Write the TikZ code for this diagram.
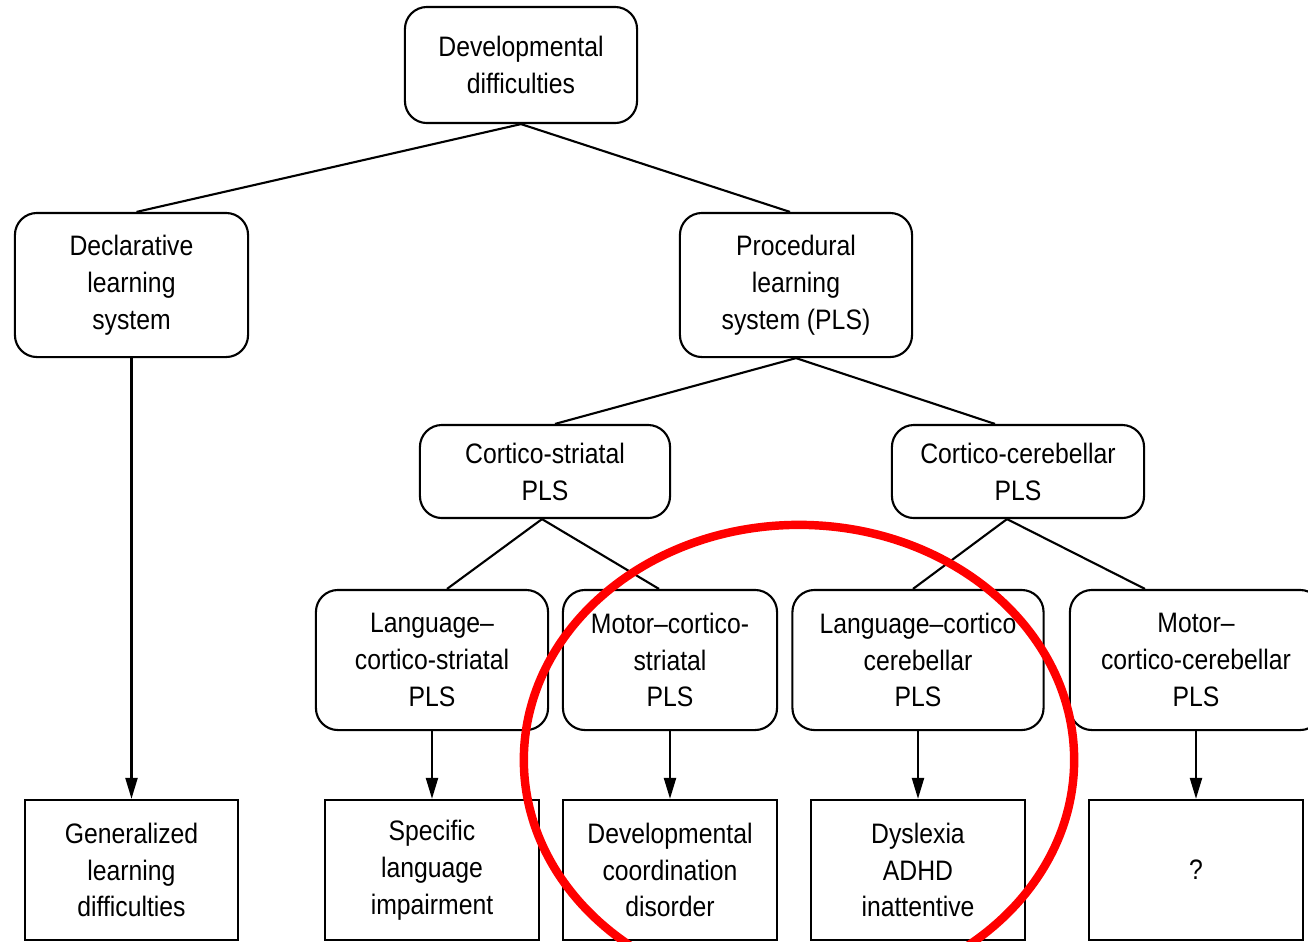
\documentclass[tikz,border=0pt]{standalone}
\usepackage{fontspec}
\setmainfont{Liberation Sans}[FakeStretch=0.88]
\usetikzlibrary{arrows.meta}

\begin{document}
\begin{tikzpicture}[x=0.01cm,y=-0.01cm,
  every node/.style={font=\fontsize{8}{10.5}\selectfont, align=center, inner sep=0pt},
  roundbox/.style={draw, rounded corners=0.22cm, line width=0.6pt},
  sharpbox/.style={draw, line width=0.6pt, minimum width=2.13cm, minimum height=1.40cm},
  link/.style={line width=0.6pt},
  drop/.style={line width=0.7pt, -{Triangle[length=6pt,width=3.4pt]}}]
  \useasboundingbox (0,0) rectangle (1308,941);
  % top of the tree
  \node[roundbox, minimum width=2.32cm, minimum height=1.16cm] (dev) at (521,65) {Developmental\\difficulties};
  \node[roundbox, minimum width=2.33cm, minimum height=1.44cm] (decl) at (131.5,285) {Declarative\\learning\\system};
  \node[roundbox, minimum width=2.32cm, minimum height=1.44cm] (proc) at (796,285) {Procedural\\learning\\system (PLS)};
  % second level
  \node[roundbox, minimum width=2.50cm, minimum height=0.93cm] (cs) at (545,471.5) {Cortico-striatal\\PLS};
  \node[roundbox, minimum width=2.52cm, minimum height=0.93cm] (cc) at (1018,471.5) {Cortico-cerebellar\\PLS};
  % third level
  \node[roundbox, minimum width=2.32cm, minimum height=1.40cm] (lcs) at (432,660) {Language--\\cortico-striatal\\PLS};
  \node[roundbox, minimum width=2.14cm, minimum height=1.40cm] (mcs) at (670,660) {Motor--cortico-\\striatal\\PLS};
  \node[roundbox, minimum width=2.51cm, minimum height=1.40cm] (lcc) at (918,660) {Language--cortico\\cerebellar\\PLS};
  \node[roundbox, minimum width=2.52cm, minimum height=1.40cm] (mcc) at (1196,660) {Motor--\\cortico-cerebellar\\PLS};
  % outcomes
  \node[sharpbox] (gen) at (131.5,870) {Generalized\\learning\\difficulties};
  \node[sharpbox] (sli) at (432,870) {Specific\\language\\impairment};
  \node[sharpbox] (dcd) at (670,870) {Developmental\\coordination\\disorder};
  \node[sharpbox] (dys) at (918,870) {Dyslexia\\ADHD\\inattentive};
  \node[sharpbox] (unk) at (1196,870) {?};
  % branches
  \draw[link] (dev.south) -- ([xshift=0.05cm]decl.north);
  \draw[link] (dev.south) -- ([xshift=-0.06cm]proc.north);
  \draw[link] (proc.south) -- ([xshift=0.10cm]cs.north);
  \draw[link] (proc.south) -- ([xshift=-0.23cm]cc.north);
  \draw[link] ([xshift=-0.03cm]cs.south) -- ([xshift=0.15cm]lcs.north);
  \draw[link] ([xshift=-0.03cm]cs.south) -- ([xshift=-0.11cm]mcs.north);
  \draw[link] ([xshift=-0.11cm]cc.south) -- ([xshift=-0.05cm]lcc.north);
  \draw[link] ([xshift=-0.11cm]cc.south) -- ([xshift=-0.51cm]mcc.north);
  % arrows down to outcomes
  \draw[drop] (decl.south) -- (gen.north);
  \draw[drop] (lcs.south) -- (sli.north);
  \draw[drop] (mcs.south) -- (dcd.north);
  \draw[drop] (lcc.south) -- (dys.north);
  \draw[drop] (mcc.south) -- (unk.north);
  % highlight
  \draw[red, line width=2.4pt] (799,760) ellipse [x radius=2.75cm, y radius=2.35cm];
\end{tikzpicture}
\end{document}
